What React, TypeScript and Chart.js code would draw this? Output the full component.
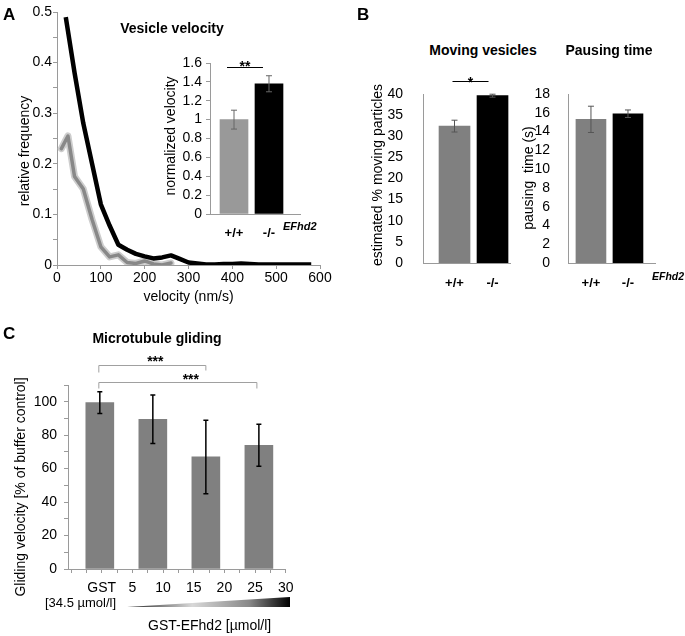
import React, { useEffect, useRef } from "react";
import { Chart, registerables } from "chart.js";
Chart.register(...registerables);

const FONT = "'Liberation Sans', Arial, Helvetica, sans-serif";
Chart.defaults.font.family = FONT;
Chart.defaults.color = "#000";
const axisGray = "#9a9a9a";

// ---------- Panel A: velocity distribution ----------
const wtVelocity = [10, 25, 40, 60, 80, 100, 120, 140, 160, 180, 200, 220, 240, 260];
const wtFrequency = [0.23, 0.255, 0.175, 0.15, 0.09, 0.036, 0.016, 0.02, 0.005, 0.003, 0.008, 0.002, 0.0, 0.004];
const koVelocity = [20, 40, 60, 80, 100, 120, 140, 160, 180, 200, 220, 240, 260, 280, 300, 320, 340, 360, 380, 400, 420, 440, 460, 480, 500, 520, 540, 560, 580];
const koFrequency = [0.49, 0.38, 0.28, 0.2, 0.12, 0.078, 0.04, 0.03, 0.022, 0.017, 0.013, 0.015, 0.019, 0.012, 0.005, 0.003, 0.001, 0.001, 0.002, 0.002, 0.003, 0.002, 0.001, 0.001, 0.001, 0.001, 0.001, 0.001, 0.001];
const velocityTicks = [0, 100, 200, 300, 400, 500, 600];
const frequencyTicks = [0, 0.05, 0.1, 0.15, 0.2, 0.25, 0.3, 0.35, 0.4, 0.45, 0.5];

// inset: normalized velocity
const genotypes = ["+/+", "-/-"];
const normVelocity = [1.0, 1.38];
const normVelocityErr = [0.1, 0.085];
const normVelocitySig = { from: 0, to: 1, level: 1.556, stars: "**" };
const normVelocityTicks = [0, 0.2, 0.4, 0.6, 0.8, 1, 1.2, 1.4, 1.6];

// ---------- Panel B ----------
const movingPct = [32.4, 39.6];
const movingPctErr = [1.4, 0.35];
const movingSig = { from: 0, to: 1, level: 43.1, stars: "*" };
const movingTicks = [0, 5, 10, 15, 20, 25, 30, 35, 40];

const pausingTime = [15.3, 15.9];
const pausingTimeErr = [1.4, 0.4];
const pausingTicks = [0, 2, 4, 6, 8, 10, 12, 14, 16, 18];

// ---------- Panel C ----------
const glidingGroups = ["GST", "GST-EFhd2 low", "GST-EFhd2 mid", "GST-EFhd2 high"];
const glidingVelocity = [99.5, 89.5, 67, 74];
const glidingErr = [6.5, 14.5, 22, 12.5];
const glidingSig = [
  { from: 0, to: 2, level: 122, stars: "***" },
  { from: 0, to: 3, level: 112, stars: "***" },
];
const concentrationTicks = [-5, -2.5, 0, 2.5, 5, 7.5, 10, 12.5, 15, 17.5, 20, 22.5, 25, 27.5, 30];
const glidingTicks = [0, 10, 20, 30, 40, 50, 60, 70, 80, 90, 100, 110];

// ---------- helpers ----------
const fixW = (w: number) => (s: any) => { s.width = w; };
const fixH = (h: number) => (s: any) => { s.height = h; };
const f14 = { size: 14, family: FONT };
const setTicks = (vals: number[]) => (s: any) => { s.ticks = vals.map((v) => ({ value: v })); };

const yTitlePlugin = {
  id: "yTitle",
  afterDraw(chart: any, _a: any, opts: any) {
    if (!opts || !opts.text) return;
    const ctx = chart.ctx;
    ctx.save();
    ctx.translate(opts.x, opts.y);
    ctx.rotate(-Math.PI / 2);
    ctx.font = `14px ${FONT}`;
    ctx.fillStyle = "#000";
    ctx.textAlign = "center";
    ctx.textBaseline = "middle";
    ctx.fillText(opts.text, 0, 0);
    ctx.restore();
  },
};

const errorBarPlugin = {
  id: "errorBars",
  afterDatasetsDraw(chart: any, _a: any, opts: any) {
    if (!opts || !opts.errors) return;
    const meta = chart.getDatasetMeta(0);
    const ys = chart.scales.y;
    const ctx = chart.ctx;
    ctx.save();
    ctx.strokeStyle = opts.color;
    ctx.lineWidth = opts.lineWidth;
    meta.data.forEach((bar: any, i: number) => {
      const m = opts.means[i];
      const e = opts.errors[i];
      const x = bar.x;
      const t = ys.getPixelForValue(m + e);
      const b = ys.getPixelForValue(m - e);
      ctx.beginPath();
      ctx.moveTo(x, t); ctx.lineTo(x, b);
      ctx.moveTo(x - opts.cap, t); ctx.lineTo(x + opts.cap, t);
      ctx.moveTo(x - opts.cap, b); ctx.lineTo(x + opts.cap, b);
      ctx.stroke();
    });
    ctx.restore();
  },
};

const sigPlugin = {
  id: "sig",
  afterDatasetsDraw(chart: any, _a: any, opts: any) {
    if (!opts || !opts.marks) return;
    const meta = chart.getDatasetMeta(0);
    const ys = chart.scales.y;
    const ctx = chart.ctx;
    ctx.save();
    for (const m of opts.marks) {
      const x1 = meta.data[m.from].x + (m.dx1 || 0);
      const x2 = meta.data[m.to].x + (m.dx2 || 0);
      const y = Math.round(ys.getPixelForValue(m.level)) + 0.5;
      ctx.strokeStyle = m.color;
      ctx.lineWidth = m.lineWidth;
      ctx.beginPath();
      if (m.drop) {
        ctx.moveTo(x1, y + m.drop); ctx.lineTo(x1, y); ctx.lineTo(x2, y); ctx.lineTo(x2, y + (m.drop2 || m.drop));
      } else {
        ctx.moveTo(x1, y); ctx.lineTo(x2, y);
      }
      ctx.stroke();
      ctx.font = m.font;
      ctx.fillStyle = "#000";
      ctx.textAlign = "center";
      ctx.textBaseline = "alphabetic";
      ctx.fillText(m.stars, (x1 + x2) / 2 + (m.textDx || 0), y + m.textDy);
    }
    ctx.restore();
  },
};

const plugins = [yTitlePlugin, errorBarPlugin, sigPlugin];

function ChartCanvas(props: { left: number; top: number; width: number; height: number; make: () => any }) {
  const ref = useRef<HTMLCanvasElement>(null);
  useEffect(() => {
    const cfg = props.make();
    cfg.plugins = plugins;
    const chart = new Chart(ref.current as HTMLCanvasElement, cfg);
    return () => chart.destroy();
  }, []);
  return (
    <canvas
      ref={ref}
      width={props.width}
      height={props.height}
      style={{ position: "absolute", left: props.left, top: props.top, width: props.width, height: props.height }}
    />
  );
}

function Txt(props: { x: number; y: number; size: number; bold?: boolean; italic?: boolean; center?: boolean; children: any }) {
  return (
    <div
      style={{
        position: "absolute",
        left: props.x,
        top: props.y,
        fontFamily: FONT,
        fontSize: props.size,
        fontWeight: props.bold ? "bold" : "normal",
        fontStyle: props.italic ? "italic" : "normal",
        lineHeight: 1,
        whiteSpace: "nowrap",
        transform: props.center ? "translateX(-50%)" : undefined,
        color: "#000",
      }}
    >
      {props.children}
    </div>
  );
}

const baseOpts = {
  responsive: false,
  animation: false,
  devicePixelRatio: 1,
};

// ---------- chart configs ----------
const lineStyle = { pointRadius: 0, tension: 0, borderJoinStyle: "round" };

const makeDistribution = () => ({
  type: "line",
  data: {
    datasets: [
      { ...lineStyle, data: wtVelocity.map((x, i) => ({ x, y: wtFrequency[i] })), borderColor: "#cdcdcd", borderWidth: 7, borderCapStyle: "round", order: 3 },
      { ...lineStyle, data: wtVelocity.map((x, i) => ({ x, y: wtFrequency[i] })), borderColor: "#888888", borderWidth: 3.5, borderCapStyle: "round", order: 2 },
      { ...lineStyle, data: koVelocity.map((x, i) => ({ x, y: koFrequency[i] })), borderColor: "#000", borderWidth: 4.5, borderCapStyle: "butt", order: 1 },
    ],
  },
  options: {
    ...baseOpts,
    layout: { padding: { left: 0, top: 12, right: 15, bottom: 0 } },
    plugins: { legend: { display: false }, tooltip: { enabled: false }, yTitle: { text: "relative frequency", x: 25, y: 151 } },
    scales: {
      x: {
        type: "linear", min: 0, max: 600, offset: false,
        afterBuildTicks: setTicks(velocityTicks),
        ticks: { font: f14, color: "#000", padding: 1, maxRotation: 0, autoSkip: false },
        grid: { drawOnChartArea: false, tickLength: 4, color: axisGray },
        border: { color: axisGray },
        title: { display: true, text: "velocity (nm/s)", font: f14, color: "#000", padding: { top: 0, bottom: 6.6 } },
        afterFit: fixH(47),
      },
      y: {
        min: 0, max: 0.5,
        afterBuildTicks: setTicks(frequencyTicks),
        ticks: { font: f14, color: "#000", padding: 1, autoSkip: false, callback: (_v: any, i: number) => (i % 2 === 0 ? String(frequencyTicks[i]) : "") },
        grid: { drawOnChartArea: false, tickLength: 4, color: axisGray },
        border: { color: axisGray },
        afterFit: fixW(57),
      },
    },
  },
});

function genotypeBars(means: number[], colors: string[], thickness: number) {
  return {
    datasets: [{ data: genotypes.map((_, i) => ({ x: i, y: means[i] })), backgroundColor: colors, barThickness: thickness, borderWidth: 0 }],
  };
}

function genotypeX(min: number, max: number, padding: number, height: number) {
  return {
    type: "linear", min, max, offset: false,
    afterBuildTicks: (s: any) => { s.ticks = genotypes.map((_, i) => ({ value: i })); },
    ticks: { callback: (_v: any, i: number) => genotypes[i], font: { size: 13, weight: "bold", family: FONT }, color: "#000", padding, autoSkip: false, maxRotation: 0 },
    grid: { display: false, offset: false },
    border: { color: axisGray },
    afterFit: fixH(height),
  };
}

function valueY(vals: number[], padding: number, width: number, tickMarks: boolean, fmt?: (v: number) => string) {
  return {
    min: vals[0], max: vals[vals.length - 1],
    afterBuildTicks: setTicks(vals),
    ticks: { font: f14, color: "#000", padding, autoSkip: false, callback: (_v: any, i: number) => (fmt ? fmt(vals[i]) : String(vals[i])) },
    grid: tickMarks ? { drawOnChartArea: false, tickLength: 4, color: axisGray } : { display: false },
    border: { color: axisGray },
    afterFit: fixW(width),
  };
}

const makeInset = () => ({
  type: "bar",
  data: genotypeBars(normVelocity, ["#999999", "#000000"], 28),
  options: {
    ...baseOpts,
    layout: { padding: { left: 0, top: 13, right: 30, bottom: 0 } },
    plugins: {
      legend: { display: false }, tooltip: { enabled: false },
      yTitle: { text: "normalized velocity", x: 21, y: 86 },
      errorBars: { means: normVelocity, errors: normVelocityErr, color: "#666", lineWidth: 1, cap: 3 },
      sig: { marks: [{ ...normVelocitySig, color: "#000", lineWidth: 1, dx1: -7, dx2: -6, textDy: 3, font: `bold 14px ${FONT}` }] },
    },
    scales: {
      x: genotypeX(-0.686, 1.886, 4, 26),
      y: valueY(normVelocityTicks, 4, 60, true),
    },
  },
});

const makeMoving = () => ({
  type: "bar",
  data: genotypeBars(movingPct, ["#808080", "#000000"], 31),
  options: {
    ...baseOpts,
    layout: { padding: { left: 0, top: 34, right: 10, bottom: 0 } },
    plugins: {
      legend: { display: false }, tooltip: { enabled: false },
      yTitle: { text: "estimated % moving particles", x: 28, y: 115 },
      errorBars: { means: movingPct, errors: movingPctErr, color: "#555", lineWidth: 1, cap: 3 },
      sig: { marks: [{ ...movingSig, color: "#000", lineWidth: 1, dx1: -2, dx2: -4, textDy: 5, font: `bold 14px ${FONT}` }] },
    },
    scales: {
      x: genotypeX(-0.829, 1.46, 5, 27),
      y: valueY(movingTicks, 12, 73, false),
    },
  },
});

const makePausing = () => ({
  type: "bar",
  data: genotypeBars(pausingTime, ["#808080", "#000000"], 30),
  options: {
    ...baseOpts,
    layout: { padding: { left: 0, top: 34, right: 30, bottom: 0 } },
    plugins: {
      legend: { display: false }, tooltip: { enabled: false },
      yTitle: { text: "pausing  time (s)", x: 19, y: 118 },
      errorBars: { means: pausingTime, errors: pausingTimeErr, color: "#555", lineWidth: 1, cap: 3 },
    },
    scales: {
      x: genotypeX(-0.62, 1.73, 5, 27),
      y: valueY(pausingTicks, 10, 58, false),
    },
  },
});

const makeGliding = () => ({
  type: "bar",
  data: {
    datasets: [{
      label: "gliding velocity",
      data: glidingGroups.map((_, i) => ({ x: i, y: glidingVelocity[i] })),
      backgroundColor: "#808080", barThickness: 28, borderWidth: 0, xAxisID: "x", yAxisID: "y",
    }],
  },
  options: {
    ...baseOpts,
    layout: { padding: { left: 0, top: 75, right: 13, bottom: 0 } },
    plugins: {
      legend: { display: false }, tooltip: { enabled: false },
      yTitle: { text: "Gliding velocity [% of buffer control]", x: 21.5, y: 177 },
      errorBars: { means: glidingVelocity, errors: glidingErr, color: "#000", lineWidth: 1.5, cap: 2.5 },
      sig: {
        marks: [
          { ...glidingSig[0], color: "#a0a0a0", lineWidth: 1, dx1: -1, drop: 7, drop2: 5, textDx: 3, textDy: 0, font: `bold 14px ${FONT}` },
          { ...glidingSig[1], color: "#a0a0a0", lineWidth: 1, dx1: -1, dx2: -2, drop: 6, textDx: 13, textDy: 1, font: `bold 14px ${FONT}` },
        ],
      },
    },
    scales: {
      x: { type: "linear", min: -0.6, max: 3.506, offset: false, display: false, grid: { offset: false } },
      x2: {
        type: "linear", position: "bottom", min: -5.5, max: 30, offset: false,
        afterBuildTicks: setTicks(concentrationTicks),
        ticks: {
          font: f14, color: "#000", padding: 6.5, autoSkip: false, maxRotation: 0,
          callback: (_v: any, i: number) => {
            const v = concentrationTicks[i];
            if (v < 0 || v % 5 !== 0) return "";
            return v === 0 ? "GST" : String(v);
          },
        },
        grid: { drawOnChartArea: false, tickLength: 4, color: axisGray, offset: false },
        border: { color: axisGray },
        afterFit: fixH(30),
      },
      y: {
        ...valueY(glidingTicks, 7, 68, true),
        ticks: { font: f14, color: "#000", padding: 7, autoSkip: false, callback: (_v: any, i: number) => (glidingTicks[i] % 20 === 0 ? String(glidingTicks[i]) : "") },
      },
    },
  },
});

export default function App() {
  return (
    <div style={{ position: "absolute", left: 0, top: 0, width: 685, height: 636, background: "#fff", overflow: "hidden" }}>
      <ChartCanvas left={0} top={0} width={335} height={312} make={makeDistribution} />
      <ChartCanvas left={150} top={50} width={180} height={190} make={makeInset} />
      <ChartCanvas left={350} top={60} width={170} height={230} make={makeMoving} />
      <ChartCanvas left={510} top={60} width={175} height={230} make={makePausing} />
      <ChartCanvas left={0} top={310} width={300} height={289} make={makeGliding} />

      <Txt x={3} y={6} size={17} bold>A</Txt>
      <Txt x={172} y={21} size={14} bold center>Vesicle velocity</Txt>
      <Txt x={283} y={221} size={11} bold italic>EFhd2</Txt>

      <Txt x={357} y={6} size={17} bold>B</Txt>
      <Txt x={483} y={43} size={14} bold center>Moving vesicles</Txt>
      <Txt x={609} y={43} size={14} bold center>Pausing time</Txt>
      <Txt x={652} y={271} size={10.5} bold italic>EFhd2</Txt>

      <Txt x={3} y={325} size={17} bold>C</Txt>
      <Txt x={157} y={331} size={14} bold center>Microtubule gliding</Txt>
      <Txt x={45} y={596} size={13}>[34.5 µmol/l]</Txt>
      <div
        style={{
          position: "absolute", left: 127, top: 597, width: 163, height: 10,
          clipPath: "polygon(0 100%, 100% 0, 100% 100%)",
          background: "linear-gradient(to right, #222 0%, #d8d8d8 40%, #888 75%, #000 100%)",
        }}
      />
      <Txt x={148} y={618} size={14}>GST-EFhd2 [µmol/l]</Txt>
    </div>
  );
}
